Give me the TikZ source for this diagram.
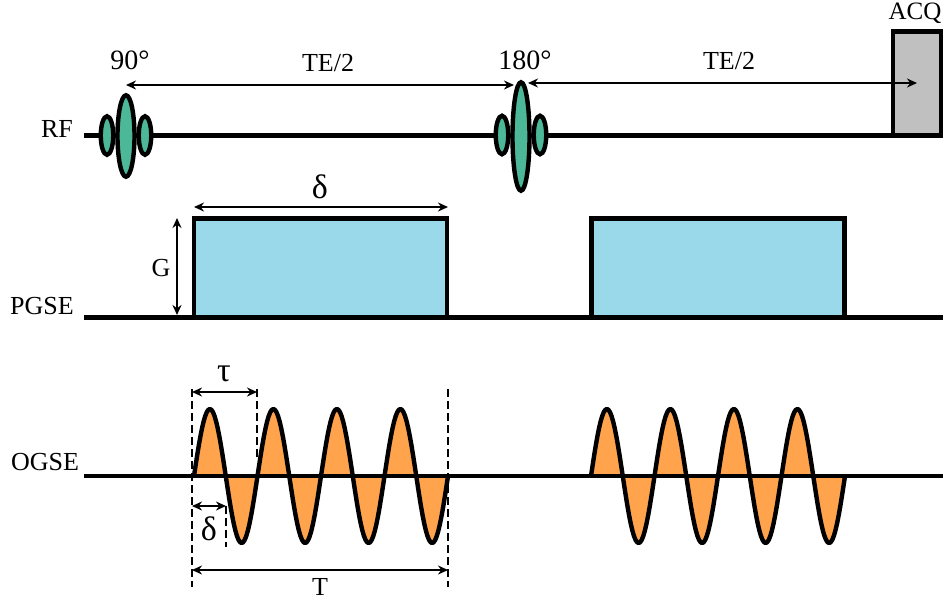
\documentclass[tikz,border=0pt]{standalone}
\usepackage{fontspec}
\setmainfont{Liberation Serif}
\usetikzlibrary{arrows.meta,shapes.geometric}
\definecolor{rfgreen}{RGB}{76,184,152}
\definecolor{acqgray}{RGB}{192,192,192}
\definecolor{pgseblue}{RGB}{154,217,234}
\definecolor{ogseorange}{RGB}{255,163,77}
\begin{document}
\begin{tikzpicture}[x=1pt,y=-1pt,
  seqline/.style={line width=4.4pt},
  lobebig/.style={draw,ellipse,line width=4.4pt,fill=rfgreen,inner sep=0pt,minimum width=17pt},
  lobeside/.style={draw,ellipse,line width=4.4pt,fill=rfgreen,inner sep=0pt,minimum width=12.5pt,minimum height=38.5pt},
  gradblock/.style={draw,line width=4.4pt,fill=pgseblue,inner sep=0pt,outer sep=0pt,minimum width=253pt,minimum height=99pt},
  dimarrow/.style={{Stealth[length=10pt,width=9pt]}-{Stealth[length=10pt,width=9pt]},line width=2.2pt},
  guide/.style={line width=1.2pt,dash pattern=on 8pt off 4pt},
  lab/.style={font=\fontsize{26}{26}\selectfont,inner sep=0pt},
  greek/.style={font=\fontsize{34}{34}\selectfont,inner sep=0pt},
  deg/.style={font=\fontsize{28}{28}\selectfont,inner sep=0pt}
]
  \useasboundingbox (0,0) rectangle (945,600);

  % RF line
  \coordinate (rfstart) at (84,135.5);
  \node[draw,line width=4.4pt,fill=acqgray,inner sep=0pt,outer sep=0pt,minimum width=47.6pt,minimum height=104pt] (acq) at (917,83.5) {};
  \draw[seqline] (rfstart) -- (acq.south west);
  \node[lobeside] (lobeal) at (107,135.5) {};
  \node[lobeside] (lobear) at (145,135.5) {};
  \node[lobebig,minimum height=81.5pt] (lobea) at (126,136) {};
  \node[lobeside] (lobebl) at (502,135) {};
  \node[lobeside] (lobebr) at (540,135) {};
  \node[lobebig,minimum height=108.5pt] (lobeb) at (521,136.5) {};

  % PGSE line
  \coordinate (pgsestart) at (84,317.5);
  \coordinate (pgseend) at (943,317.5);
  \node[gradblock] (pgsea) at (320.5,268) {};
  \node[gradblock] (pgseb) at (718,268) {};
  \draw[seqline] (pgsestart) -- (pgseend);

  % OGSE line
  \foreach \xs in {194,591}{
    \fill[ogseorange] plot[domain=0:254,samples=161] ({\xs+\x},{476-67*sin(\x*5.669)});
    \draw[seqline,line join=round] plot[domain=0:254,samples=161] ({\xs+\x},{476-67*sin(\x*5.669)});
  }
  \coordinate (ogsestart) at (84,476);
  \coordinate (ogseend) at (943,476);
  \draw[seqline] (ogsestart) -- (ogseend);

  % Guides
  \coordinate (gaup) at (192,389);
  \coordinate (galow) at (192,587);
  \coordinate (gbup) at (257,389);
  \coordinate (gblow) at (257,460);
  \coordinate (gcup) at (226,506);
  \coordinate (gclow) at (226,547);
  \coordinate (gdup) at (448,389);
  \coordinate (gdlow) at (448,587);
  \draw[guide] (gaup) -- (galow);
  \draw[guide] (gbup) -- (gblow);
  \draw[guide] (gcup) -- (gclow);
  \draw[guide] (gdup) -- (gdlow);

  % Dimension arrows
  \coordinate (tea) at (126,85);
  \coordinate (teb) at (514,85);
  \coordinate (tec) at (528,83);
  \coordinate (ted) at (917,83);
  \draw[dimarrow] (tea) -- (teb);
  \draw[dimarrow] (tec) -- (ted);
  \coordinate (dela) at (194,207);
  \coordinate (delb) at (448,207);
  \draw[dimarrow] (dela) -- (delb);
  \coordinate (ga) at (177,218);
  \coordinate (gb) at (177,315);
  \draw[dimarrow] (ga) -- (gb);
  \coordinate (taua) at (192,392);
  \coordinate (taub) at (257,392);
  \draw[dimarrow] (taua) -- (taub);
  \coordinate (dsa) at (192,506);
  \coordinate (dsb) at (226,506);
  \draw[dimarrow] (dsa) -- (dsb);
  \coordinate (ta) at (192,570);
  \coordinate (tb) at (448,570);
  \draw[dimarrow] (ta) -- (tb);

  % Labels
  \node[deg] (ninety) at (130,60) {90°};
  \node[lab] (teleft) at (328,63) {TE/2};
  \node[deg] (oneeighty) at (525,60) {180°};
  \node[lab] (teright) at (729,61) {TE/2};
  \node[lab,font=\fontsize{25}{25}\selectfont] (acqlab) at (915,13.5) {ACQ};
  \node[lab] (rflab) at (57,129) {RF};
  \node[greek] (dellab) at (320,187) {δ};
  \node[lab] (glab) at (161,268) {G};
  \node[lab] (pgselab) at (42,306) {PGSE};
  \node[greek] (taulab) at (224,374) {τ};
  \node[lab] (ogselab) at (45,462) {OGSE};
  \node[greek] (dslab) at (209,529) {δ};
  \node[lab] (tlab) at (320,587) {T};
\end{tikzpicture}
\end{document}
